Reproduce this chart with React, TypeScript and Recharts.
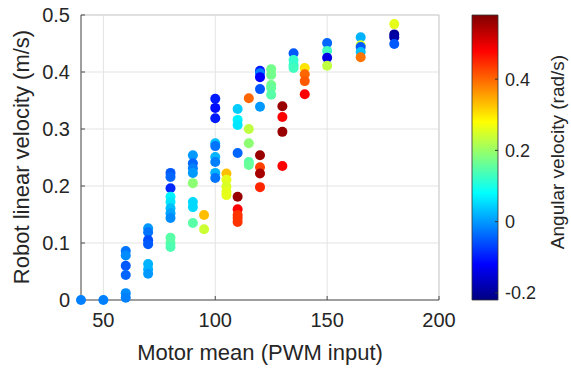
import { ScatterChart, Scatter, XAxis, YAxis, CartesianGrid, ComposedChart, Line, ReferenceArea, ReferenceLine } from 'recharts'

// motor mean (PWM), robot linear velocity (m/s), angular velocity (rad/s)
const pwm = [
  40, 50,
  60, 60, 60, 60, 60, 60,
  70, 70, 70, 70, 70, 70, 70,
  80, 80, 80, 80, 80, 80, 80, 80, 80, 80, 80,
  90, 90, 90, 90, 90, 90, 90, 90,
  95, 95,
  100, 100, 100, 100, 100, 100, 100, 100, 100,
  105, 105, 105, 105, 105,
  110, 110, 110, 110, 110, 110, 110, 110, 110,
  115, 115, 115, 115, 115,
  120, 120, 120, 120, 120, 120, 120, 120, 120,
  125, 125, 125, 125, 125,
  130, 130, 130, 130,
  135, 135, 135, 135,
  140, 140, 140, 140,
  150, 150, 150, 150,
  165, 165, 165, 165, 165,
  180, 180, 180, 180,
]
const linVel = [
  0, 0,
  0.086, 0.078, 0.060, 0.044, 0.012, 0.004,
  0.126, 0.119, 0.105, 0.098, 0.063, 0.054, 0.046,
  0.223, 0.216, 0.196, 0.181, 0.172, 0.161, 0.152, 0.144, 0.109, 0.100, 0.093,
  0.254, 0.240, 0.231, 0.223, 0.205, 0.172, 0.163, 0.135,
  0.149, 0.124,
  0.353, 0.337, 0.319, 0.275, 0.270, 0.251, 0.242, 0.223, 0.214,
  0.222, 0.211, 0.199, 0.190, 0.184,
  0.335, 0.316, 0.307, 0.258, 0.181, 0.159, 0.149, 0.144, 0.137,
  0.354, 0.300, 0.275, 0.242, 0.237,
  0.402, 0.398, 0.391, 0.370, 0.339, 0.254, 0.233, 0.222, 0.198,
  0.405, 0.395, 0.377, 0.372, 0.360,
  0.340, 0.321, 0.295, 0.235,
  0.433, 0.421, 0.412, 0.407,
  0.407, 0.396, 0.384, 0.361,
  0.451, 0.437, 0.425, 0.411,
  0.461, 0.447, 0.444, 0.435, 0.426,
  0.484, 0.466, 0.461, 0.449,
]
const angVel = [
  -0.02, -0.02,
  -0.03, -0.01, -0.05, -0.04, -0.01, -0.02,
  0.0, -0.03, -0.06, -0.05, 0.02, 0.02, 0.0,
  -0.05, -0.04, -0.09, 0.07, 0.06, 0.03, 0.01, -0.01, 0.15, 0.15, 0.14,
  0.0, -0.04, -0.02, 0.0, 0.19, 0.05, 0.05, 0.15,
  0.33, 0.24,
  -0.1, -0.11, -0.1, 0.03, -0.03, 0.02, -0.02, 0.02, -0.03,
  0.33, 0.26, 0.25, 0.26, 0.26,
  0.04, 0.07, 0.06, -0.04, 0.56, 0.48, 0.44, 0.44, 0.44,
  0.4, 0.23, 0.19, 0.15, 0.16,
  -0.1, -0.02, -0.12, -0.05, 0.0, 0.56, 0.43, 0.55, 0.45,
  0.17, 0.17, 0.17, 0.16, 0.15,
  0.56, 0.48, 0.56, 0.48,
  -0.05, 0.12, 0.12, 0.13,
  0.3, 0.4, 0.41, 0.48,
  -0.04, 0.13, -0.14, 0.23,
  0.02, 0.25, -0.05, 0.03, 0.39,
  0.26, -0.2, -0.19, -0.05,
]

const xTicks = [50, 100, 150, 200]
const yTicks = [0, 0.1, 0.2, 0.3, 0.4, 0.5]
const cbTicks = [-0.2, 0, 0.2, 0.4]
const cbMin = -0.22
const cbMax = 0.58

const font = 'Liberation Sans, Arial, sans-serif'
const textColor = '#262626'

function jet(v: number) {
  const t = Math.min(1, Math.max(0, (v - cbMin) / (cbMax - cbMin)))
  const c = (x: number) => Math.round(255 * Math.min(1, Math.max(0, x)))
  const r = c(1.5 - Math.abs(4 * t - 3))
  const g = c(1.5 - Math.abs(4 * t - 2))
  const b = c(1.5 - Math.abs(4 * t - 1))
  return `rgb(${r},${g},${b})`
}

const points = pwm.map((p, i) => ({ pwm: p, vel: linVel[i], w: angVel[i] }))

const Dot = (props: any) => (
  <circle cx={props.cx} cy={props.cy} r={5} fill={jet(props.payload.w)} />
)

export default function App() {
  const tickStyle = { fill: textColor, fontSize: 20, fontFamily: font }
  return (
    <div style={{ position: 'absolute', left: 0, top: 0, width: 571, height: 374, background: '#fff', fontFamily: font }}>
      <ScatterChart
        width={571}
        height={374}
        margin={{ top: 15, right: 132, bottom: 44, left: 21 }}
        style={{ position: 'absolute', left: 0, top: 0 }}
      >
        <CartesianGrid stroke="#e3e3e3" strokeWidth={1} />
        <ReferenceLine y={0.5} stroke="#cfcfcf" />
        <ReferenceLine x={200} stroke="#cfcfcf" />
        <XAxis
          type="number"
          dataKey="pwm"
          domain={[40, 200]}
          ticks={xTicks}
          height={30}
          stroke="#4d4d4d"
          tickSize={-4}
          tickMargin={17}
          tick={tickStyle}
        />
        <YAxis
          type="number"
          dataKey="vel"
          domain={[0, 0.5]}
          ticks={yTicks}
          width={60}
          stroke="#4d4d4d"
          tickSize={-4}
          tickMargin={15}
          tick={tickStyle}
        />
        <Scatter data={points} isAnimationActive={false} shape={Dot} />
      </ScatterChart>

      <ComposedChart
        width={131}
        height={374}
        data={[{ x: 0, y: cbMin }, { x: 1, y: cbMin }]}
        margin={{ top: 15, right: 0, bottom: 74, left: 32 }}
        style={{ position: 'absolute', left: 440, top: 0 }}
      >
        <defs>
          <linearGradient id="jet" x1="0" y1="1" x2="0" y2="0">
            {Array.from({ length: 17 }, (_, k) => {
              const v = cbMin + ((cbMax - cbMin) * k) / 16
              return <stop key={k} offset={`${(k / 16) * 100}%`} stopColor={jet(v)} />
            })}
          </linearGradient>
        </defs>
        <XAxis type="number" dataKey="x" domain={[0, 1]} hide />
        <Line dataKey="y" stroke="none" dot={false} isAnimationActive={false} />
        <ReferenceArea x1={0} x2={1} y1={cbMin} y2={cbMax} fill="url(#jet)" fillOpacity={1} stroke="#333" strokeWidth={0.8} />
        <YAxis
          type="number"
          orientation="right"
          domain={[cbMin, cbMax]}
          ticks={cbTicks}
          width={73}
          axisLine={false}
          stroke="#333"
          tickSize={-3}
          tickMargin={10}
          tick={{ fill: textColor, fontSize: 18, fontFamily: font, textAnchor: 'start' }}
        />
      </ComposedChart>

      <div style={{ position: 'absolute', left: 260, top: 340, transform: 'translateX(-50%)', fontSize: 22, color: textColor, whiteSpace: 'nowrap' }}>
        Motor mean (PWM input)
      </div>
      <div style={{ position: 'absolute', left: 22, top: 157, transform: 'translate(-50%, -50%) rotate(-90deg)', fontSize: 22, color: textColor, whiteSpace: 'nowrap' }}>
        Robot linear velocity (m/s)
      </div>
      <div style={{ position: 'absolute', left: 558, top: 152, transform: 'translate(-50%, -50%) rotate(-90deg)', fontSize: 19, color: textColor, whiteSpace: 'nowrap' }}>
        Angular velocity (rad/s)
      </div>
    </div>
  )
}
